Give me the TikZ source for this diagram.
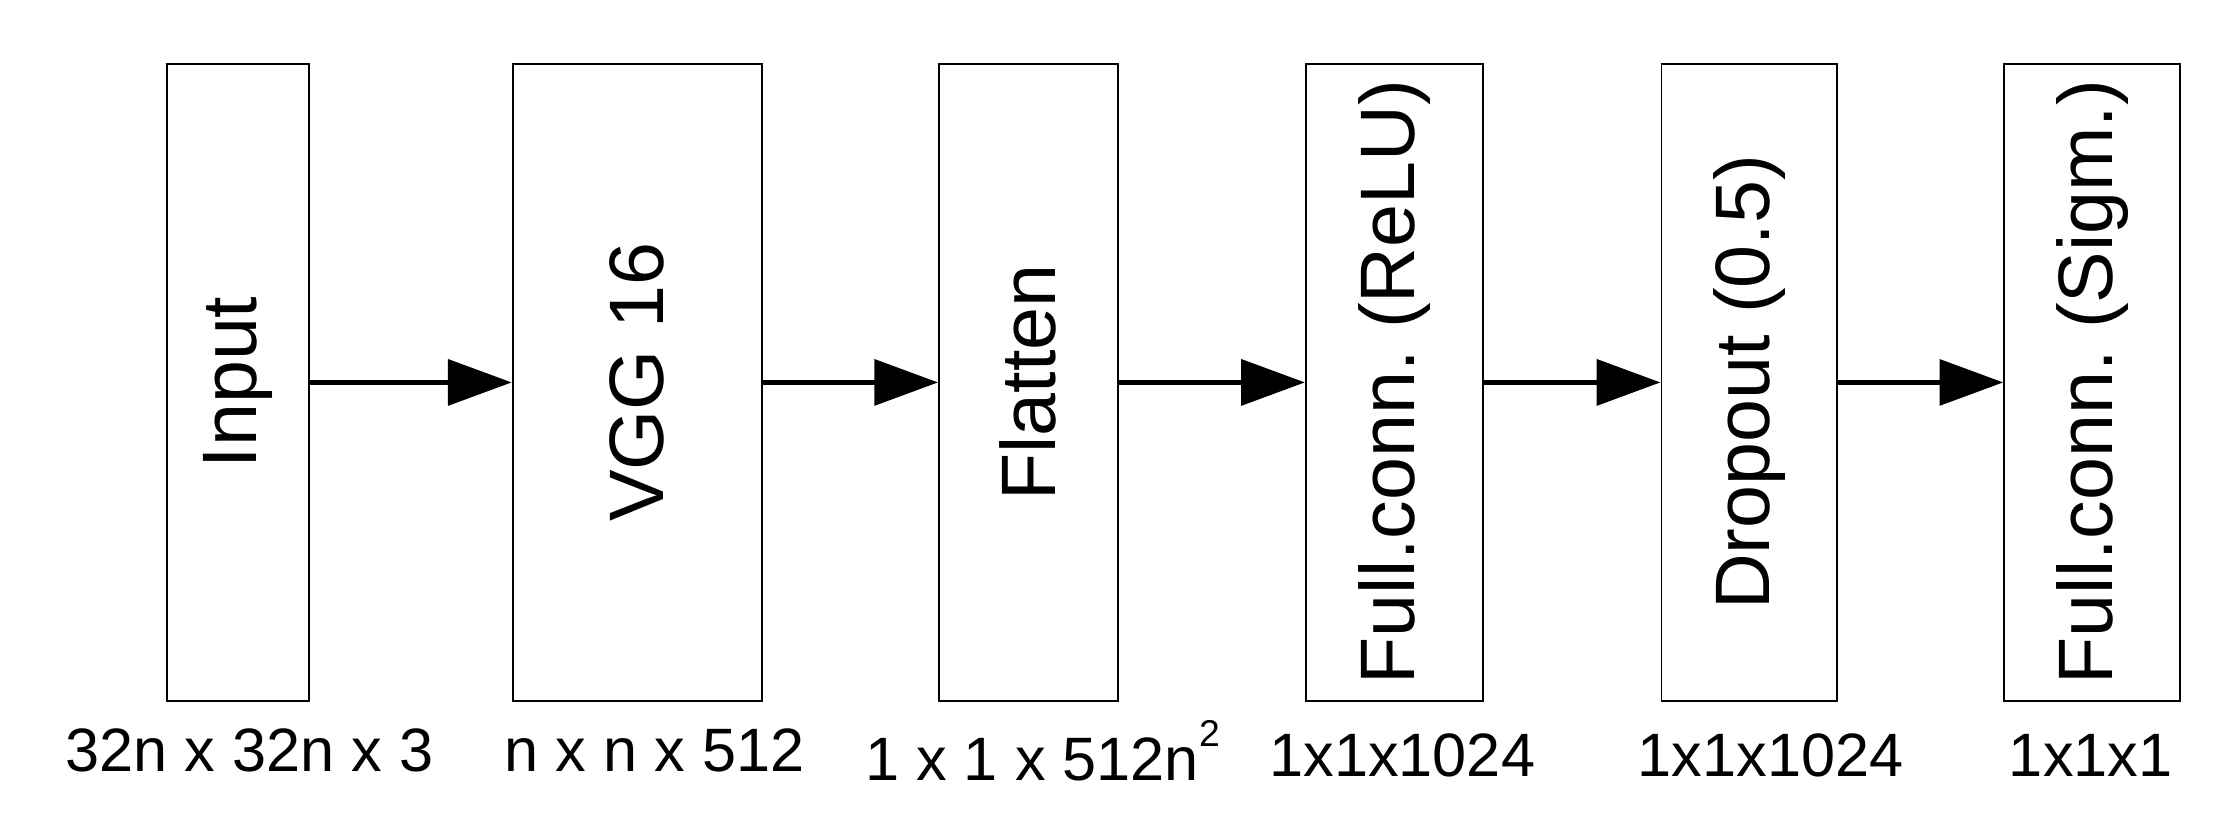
\documentclass[tikz,border=0pt]{standalone}
\usepackage{fontspec}
\setmainfont{Liberation Sans}
\usetikzlibrary{arrows.meta}
\frenchspacing
\begin{document}
\begin{tikzpicture}[x=0.01cm,y=-0.01cm,
  blk/.style={draw,line width=0.4pt,inner sep=0},
  lbl/.style={rotate=90,font=\fontsize{15.5}{18}\selectfont},
  dim/.style={font=\fontsize{12.3}{15}\selectfont},
  arr/.style={line width=1.1pt,-{Triangle[length=0.45cm,width=0.32cm]}}]
\useasboundingbox (0,0) rectangle (1568,574);
\foreach \n/\a/\b/\t in {in/118/218/Input, vgg/362/538/VGG 16, fl/663/789/Flatten, fc/922/1047/Full.conn. (ReLU), dr/1173/1297/Dropout (0.5), fs/1415/1539/Full.conn. (Sigm.)}{
  \node[blk,minimum width={(\b-\a)*0.01cm},minimum height=4.5cm] (\n) at ({(\a+\b)/2},270) {};
  \node[lbl] (\n t) at (\n.center) {\frenchspacing\t};
}
\draw[arr] (in) -- (vgg);
\draw[arr] (vgg) -- (fl);
\draw[arr] (fl) -- (fc);
\draw[arr] (fc) -- (dr);
\draw[arr] (dr) -- (fs);
\node[dim] (d1) at (176,530) {32n x 32n x 3};
\node[dim] (d2) at (462,530) {n x n x 512};
\node[dim] (d3) at (736,530) {1 x 1 x 512n\raisebox{0.55em}{\fontsize{7.5}{9}\selectfont 2}};
\node[dim] (d4) at (990,533) {1x1x1024};
\node[dim] (d5) at (1250,533) {1x1x1024};
\node[dim] (d6) at (1476,533) {1x1x1};
\end{tikzpicture}
\end{document}
